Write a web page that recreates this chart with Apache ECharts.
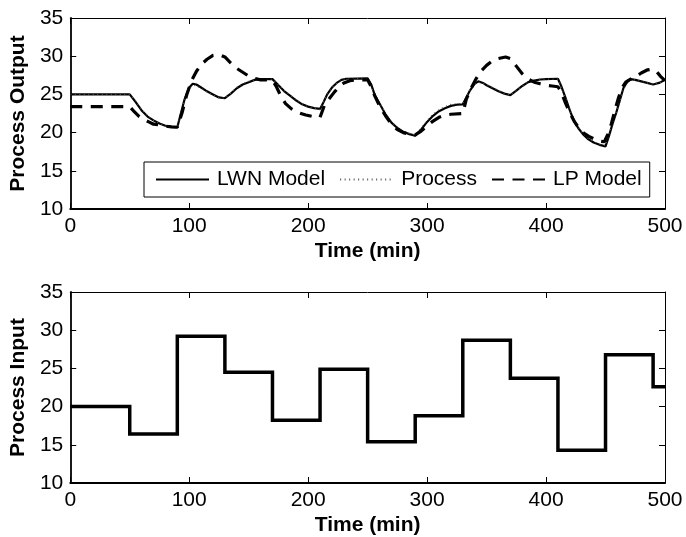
<!DOCTYPE html>
<html>
<head>
<meta charset="utf-8">
<script src="https://cdn.jsdelivr.net/npm/echarts@6/dist/echarts.min.js"></script>
<style>
  html, body { margin: 0; padding: 0; background: #fff; }
  #chart { width: 686px; height: 537px; }
</style>
</head>
<body>
<div id="chart"></div>
<script>
// Identification run: process response vs. two model predictions (top)
// and the step-wise input sequence that drives them (bottom).

const timeTicks = [0, 100, 200, 300, 400, 500];
const valueTicks = [10, 15, 20, 25, 30, 35];
const seriesNames = ['LWN Model', 'Process', 'LP Model'];

// [time (min), output]
const lwnModel = [
  [0,25.0],[50,25.0],[55,24.0],[60,22.9],[65,22.1],[70,21.6],[75,21.2],[80,20.9],[85,20.75],[90,20.7],
  [93,22.5],[96,24.3],[100,25.9],[103,26.4],[106,26.3],[110,25.9],[115,25.4],[120,25.0],[125,24.6],[130,24.5],
  [135,25.1],[140,25.8],[145,26.3],[150,26.6],[155,26.9],[160,27.0],[170,27.0],
  [175,26.2],[180,25.4],[185,24.8],[190,24.2],[195,23.7],[200,23.4],[205,23.2],[210,23.1],
  [213,24.0],[216,25.0],[220,25.9],[224,26.5],[228,26.9],[232,27.05],[250,27.1],
  [253,26.3],[256,24.9],[260,23.8],[265,22.4],[270,21.3],[275,20.6],[280,20.1],[285,19.8],[290,19.6],
  [295,20.4],[300,21.4],[305,22.2],[310,22.8],[315,23.2],[320,23.5],[325,23.65],[330,23.7],
  [333,24.6],[336,25.5],[340,26.4],[343,26.7],[347,26.5],[350,26.2],[355,25.8],[360,25.4],[365,25.1],[370,24.9],
  [375,25.5],[380,26.1],[385,26.6],[390,26.8],[395,26.95],[400,27.0],[410,27.05],
  [413,26.0],[416,24.7],[420,22.9],[423,21.7],[427,20.6],[431,19.8],[435,19.2],[440,18.7],[445,18.4],[450,18.2],
  [453,19.6],[456,21.2],[459,22.6],[462,24.2],[465,25.8],[468,26.6],[471,27.0],[475,26.9],[480,26.7],
  [485,26.5],[490,26.3],[495,26.5],[500,26.9]
];

const processOutput = [
  [0,25.0],[50,25.0],[55,24.1],[60,23.0],[65,22.2],[70,21.6],[75,21.2],[80,20.9],[85,20.8],[90,20.7],
  [95,23.8],[100,25.8],[105,26.2],[110,25.8],[115,25.3],[120,24.9],[125,24.6],[130,24.5],
  [135,25.2],[140,25.9],[145,26.4],[150,26.7],[155,26.9],[160,27.0],[170,27.0],
  [175,26.3],[180,25.5],[185,24.9],[190,24.3],[195,23.8],[200,23.4],[205,23.2],[210,23.0],
  [215,24.7],[220,25.9],[225,26.6],[230,27.0],[250,27.1],
  [255,25.3],[260,23.9],[265,22.5],[270,21.4],[275,20.7],[280,20.2],[285,19.9],[290,19.7],
  [295,20.6],[300,21.6],[305,22.4],[310,23.0],[315,23.4],[320,23.7],[325,23.8],[330,23.8],
  [335,25.3],[340,26.4],[345,26.6],[350,26.3],[355,25.9],[360,25.5],[365,25.1],[370,24.9],
  [375,25.5],[380,26.1],[385,26.6],[390,26.9],[395,27.0],[410,27.0],
  [415,25.1],[420,23.0],[425,21.2],[430,20.0],[435,19.3],[440,18.8],[445,18.5],[450,18.3],
  [455,20.8],[460,23.1],[465,25.7],[470,26.9],[475,26.9],[480,26.7],[485,26.5],[490,26.3],[495,26.5],[500,26.9]
];

const lpModel = [
  [0,23.4],[50,23.4],[54,22.7],[58,22.1],[62,21.7],[66,21.4],[70,21.1],[75,21.0],[80,20.85],[85,20.75],[90,20.7],
  [94,22.6],[98,25.0],[102,26.8],[106,28.0],[110,28.9],[115,29.6],[120,30.1],[125,30.2],[130,29.9],
  [135,29.1],[140,28.4],[145,27.9],[150,27.4],[155,27.1],[160,26.9],[165,26.9],[170,26.8],
  [173,26.1],[177,24.8],[181,23.8],[186,23.1],[192,22.6],[198,22.3],[204,22.1],[210,22.0],
  [214,23.7],[218,24.5],[222,25.3],[226,26.0],[230,26.5],[235,26.8],[240,26.9],[250,26.9],
  [253,26.0],[256,24.8],[260,23.5],[265,22.2],[270,21.1],[275,20.4],[280,20.0],[285,19.8],[290,19.7],
  [295,20.2],[300,20.9],[305,21.5],[310,22.0],[315,22.3],[320,22.4],[330,22.5],
  [333,24.4],[337,25.8],[341,27.0],[345,28.0],[350,28.8],[355,29.4],[360,29.7],[366,29.9],[370,29.7],
  [375,28.7],[380,27.7],[385,27.0],[390,26.6],[395,26.4],[400,26.2],[405,26.1],[410,26.0],
  [413,25.2],[416,24.0],[420,22.6],[424,21.4],[428,20.5],[432,19.9],[436,19.5],[440,19.2],[444,18.9],[449,18.8],
  [452,19.8],[455,21.2],[458,23.0],[461,24.6],[464,25.9],[467,26.6],[470,26.9],[475,27.3],[480,27.8],
  [485,28.2],[489,28.3],[493,28.0],[496,27.4],[500,26.8]
];

// Input held constant over each interval: [interval start (min), input]
const processInput = [
  [0,20.0],[50,16.4],[90,29.2],[130,24.5],[170,18.2],[210,24.9],[250,15.4],
  [290,18.8],[330,28.7],[370,23.7],[410,14.3],[450,26.8],[490,22.6],[500,22.6]
];

const FONT = '"Liberation Sans", Arial, Helvetica, sans-serif';
const tMin = timeTicks[0], tMax = timeTicks[timeTicks.length - 1];
const tStep = timeTicks[1] - timeTicks[0];
const vMin = valueTicks[0], vMax = valueTicks[valueTicks.length - 1];
const vStep = valueTicks[1] - valueTicks[0];

function xAxisFor(gridIndex, position, withLabels) {
  return {
    type: 'value', gridIndex, position,
    min: tMin, max: tMax, interval: tStep,
    axisLine: { show: true, onZero: false, lineStyle: { color: '#000', width: withLabels ? 1.8 : 1 } },
    axisTick: { show: true, inside: true, length: 6, lineStyle: { color: '#000', width: 1 } },
    axisLabel: { show: withLabels, color: '#000', fontSize: 21, fontFamily: FONT, margin: 7 },
    splitLine: { show: false },
    name: withLabels ? 'Time (min)' : '',
    nameLocation: 'middle', nameGap: 32,
    nameTextStyle: { color: '#000', fontSize: 21, fontWeight: 'bold', fontFamily: FONT }
  };
}

function yAxisFor(gridIndex, position, label) {
  return {
    type: 'value', gridIndex, position,
    min: vMin, max: vMax, interval: vStep,
    axisLine: { show: true, onZero: false, lineStyle: { color: '#000', width: label ? 1.8 : 1 } },
    axisTick: { show: true, inside: true, length: 6, lineStyle: { color: '#000', width: 1 } },
    axisLabel: { show: !!label, color: '#000', fontSize: 21, fontFamily: FONT, margin: 7 },
    splitLine: { show: false },
    name: label || '',
    nameLocation: 'middle', nameGap: 40,
    nameTextStyle: { color: '#000', fontSize: 21, fontWeight: 'bold', fontFamily: FONT }
  };
}

const chart = echarts.init(document.getElementById('chart'), null, { renderer: 'canvas' });

chart.setOption({
  animation: false,
  backgroundColor: '#fff',
  grid: [
    { left: 70, right: 21, top: 18, height: 191, containLabel: false },
    { left: 70, right: 21, top: 292, height: 191, containLabel: false }
  ],
  xAxis: [
    xAxisFor(0, 'bottom', true),
    xAxisFor(0, 'top', false),
    xAxisFor(1, 'bottom', true),
    xAxisFor(1, 'top', false)
  ],
  yAxis: [
    yAxisFor(0, 'left', 'Process Output'),
    yAxisFor(0, 'right', null),
    yAxisFor(1, 'left', 'Process Input'),
    yAxisFor(1, 'right', null)
  ],
  legend: {
    data: seriesNames,
    left: 144, top: 162,
    orient: 'horizontal',
    padding: [7, 8, 7, 11],
    itemWidth: 53, itemHeight: 14, itemGap: 14,
    backgroundColor: '#fff', borderColor: '#000', borderWidth: 1, borderRadius: 0,
    itemStyle: { opacity: 0 },
    textStyle: { color: '#000', fontSize: 21, fontFamily: FONT, padding: [0, 0, 0, 3] }
  },
  series: [
    {
      name: seriesNames[0], type: 'line', xAxisIndex: 0, yAxisIndex: 0,
      data: lwnModel, showSymbol: false, symbol: 'none',
      lineStyle: { color: '#000', width: 2.2, type: 'solid' },
      itemStyle: { color: '#000' }
    },
    {
      name: seriesNames[1], type: 'line', xAxisIndex: 0, yAxisIndex: 0,
      data: processOutput, showSymbol: false, symbol: 'none',
      lineStyle: { color: '#555', width: 1.2, type: [1, 3.5] },
      itemStyle: { color: '#555' }
    },
    {
      name: seriesNames[2], type: 'line', xAxisIndex: 0, yAxisIndex: 0,
      data: lpModel, showSymbol: false, symbol: 'none',
      lineStyle: { color: '#000', width: 3.2, type: [12, 8.5] },
      itemStyle: { color: '#000' }
    },
    {
      name: 'Process Input', type: 'line', xAxisIndex: 2, yAxisIndex: 2,
      data: processInput, step: 'end', showSymbol: false, symbol: 'none',
      lineStyle: { color: '#000', width: 3.5, type: 'solid', join: 'miter', cap: 'butt' },
      itemStyle: { color: '#000' }
    }
  ]
});
</script>
</body>
</html>
